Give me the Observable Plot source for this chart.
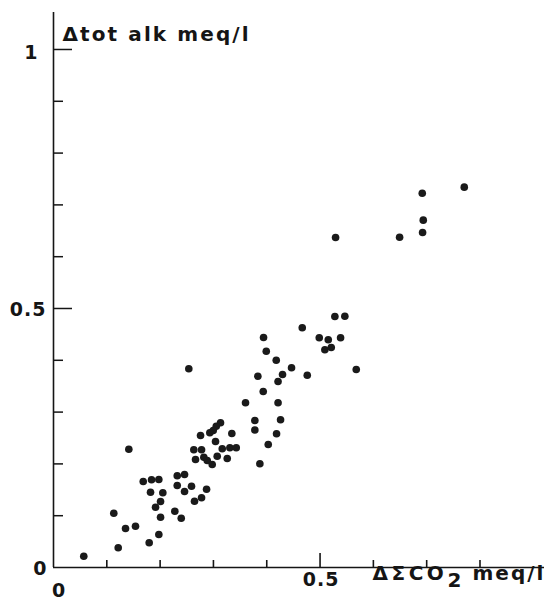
<!DOCTYPE html>
<html>
<head>
<meta charset="utf-8">
<script src="https://cdn.jsdelivr.net/npm/d3@7"></script>
<script src="https://cdn.jsdelivr.net/npm/@observablehq/plot@0.6"></script>
<style>
  html, body { margin: 0; padding: 0; background: #fff; }
  svg { display: block; }
</style>
</head>
<body>
<div id="chart"></div>
<script>
// ΔΣCO2 (meq/l) values
const dSumCO2 = [
  0.2538, 0.3833, 0.3934, 0.4212, 0.3602, 0.4212, 0.3777, 0.3777, 0.4259, 0.4184,
  0.4028, 0.3871, 0.1413, 0.3133, 0.3053, 0.2996, 0.2932, 0.2758, 0.3345, 0.3039,
  0.2632, 0.2777, 0.3165, 0.3308, 0.3428, 0.2664, 0.2820, 0.2884, 0.2977, 0.3071,
  0.3259, 0.1683, 0.1839, 0.1976, 0.2321, 0.2458, 0.1820, 0.2051, 0.2321, 0.2458,
  0.2589, 0.2871, 0.2777, 0.2645, 0.2008, 0.1914, 0.2276, 0.2396, 0.2008, 0.1131,
  0.1351, 0.1538, 0.1976, 0.1795, 0.1214, 0.0568, 0.5278, 0.5465, 0.4666, 0.3940,
  0.4985, 0.5154, 0.5385, 0.5090, 0.5210, 0.3991, 0.4178, 0.4465, 0.4296, 0.4760,
  0.5679, 0.6917, 0.7705, 0.6936, 0.6923, 0.6492, 0.5291
];
// Δ total alkalinity (meq/l) values
const dTotAlk = [
  0.3836, 0.3693, 0.3398, 0.3591, 0.3180, 0.3180, 0.2838, 0.2654, 0.2851, 0.2581,
  0.2375, 0.2002, 0.2284, 0.2793, 0.2728, 0.2645, 0.2600, 0.2548, 0.2587, 0.2432,
  0.2272, 0.2272, 0.2292, 0.2311, 0.2311, 0.2085, 0.2129, 0.2066, 0.1988, 0.2149,
  0.2104, 0.1660, 0.1693, 0.1699, 0.1770, 0.1795, 0.1454, 0.1442, 0.1583, 0.1467,
  0.1569, 0.1512, 0.1346, 0.1280, 0.1274, 0.1164, 0.1087, 0.0952, 0.0971, 0.1048,
  0.0753, 0.0797, 0.0637, 0.0477, 0.0380, 0.0218, 0.4846, 0.4851, 0.4627, 0.4440,
  0.4434, 0.4396, 0.4434, 0.4203, 0.4247, 0.4176, 0.4002, 0.3855, 0.3726, 0.3712,
  0.3822, 0.7226, 0.7342, 0.6705, 0.6467, 0.6376, 0.6371
];

const xMinorTicks = [0.1, 0.2, 0.3, 0.4, 0.6, 0.7, 0.8];
const xMajorTicks = [0.5];
const yMinorTicks = [0.1, 0.2, 0.3, 0.4, 0.6, 0.7, 0.8, 0.9];
const yMajorTicks = [0.5, 1];
const xTickLabelZero = [0];
const xTickLabelHalf = [0.5];
const yTickLabelLow = [0, 0.5];
const yTickLabelTop = [1];
const yLabel = "\u0394tot alk meq/l";
const xLabelMain = "\u0394\u03A3CO";
const xLabelSub = "2";
const xLabelUnit = "meq/l";

const points = dSumCO2.map((x, i) => ({x, y: dTotAlk[i]}));

const W = 544, H = 601;
const mL = 53, mR = 0, mT = 12, mB = 34;
const innerW = W - mL - mR, innerH = H - mT - mB;
const font = "'DejaVu Sans', Arial, Helvetica, sans-serif";
const ink = "#151515";
const fmt = d => String(d);

const chart = Plot.plot({
  width: W,
  height: H,
  marginLeft: mL,
  marginRight: mR,
  marginTop: mT,
  marginBottom: mB,
  style: {fontFamily: font, background: "#fff", color: ink},
  x: {domain: [0, 0.921], axis: null},
  y: {domain: [0, 1.0714], axis: null},
  marks: [
    Plot.ruleX([0], {stroke: ink, strokeWidth: 1.6}),
    Plot.ruleY([0], {stroke: ink, strokeWidth: 1.6}),
    Plot.tickX(xMinorTicks, {x: d => d, insetTop: innerH - 7, stroke: ink, strokeWidth: 1.6}),
    Plot.tickX(xMajorTicks, {x: d => d, insetTop: innerH - 14, stroke: ink, strokeWidth: 1.6}),
    Plot.tickY(yMinorTicks, {y: d => d, insetRight: innerW - 10, stroke: ink, strokeWidth: 1.5}),
    Plot.tickY(yMajorTicks, {y: d => d, insetRight: innerW - 19, stroke: ink, strokeWidth: 1.5}),
    Plot.text(yTickLabelLow, {
      x: 0, y: d => d, text: fmt, textAnchor: "end", dx: -7, dy: 1,
      fontSize: 19, fontWeight: "bold", fill: ink
    }),
    Plot.text(yTickLabelTop, {
      x: 0, y: d => d, text: fmt, textAnchor: "end", dx: -16, dy: 3,
      fontSize: 19, fontWeight: "bold", fill: ink
    }),
    Plot.text(xTickLabelZero, {
      x: d => d, y: 0, text: fmt, textAnchor: "middle", dx: 5, dy: 23,
      fontSize: 19, fontWeight: "bold", fill: ink
    }),
    Plot.text(xTickLabelHalf, {
      x: d => d, y: 0, text: fmt, textAnchor: "middle", dx: 1, dy: 12,
      fontSize: 19, fontWeight: "bold", fill: ink
    }),
    Plot.dot(points, {x: "x", y: "y", r: 3.8, fill: "#1a1a1a", stroke: "none"}),
    Plot.text([yLabel], {
      frameAnchor: "top-left", text: d => d, textAnchor: "start", lineAnchor: "top",
      dx: 9, dy: 14, fontSize: 20, fontWeight: "bold", fill: ink
    }),
    Plot.text([xLabelMain], {
      frameAnchor: "bottom-left", text: d => d, textAnchor: "start",
      dx: 319, dy: 12, fontSize: 20, fontWeight: "bold", fill: ink
    }),
    Plot.text([xLabelSub], {
      frameAnchor: "bottom-left", text: d => d, textAnchor: "start",
      dx: 394, dy: 19, fontSize: 20, fontWeight: "bold", fill: ink
    }),
    Plot.text([xLabelUnit], {
      frameAnchor: "bottom-left", text: d => d, textAnchor: "start",
      dx: 419, dy: 12, fontSize: 20, fontWeight: "bold", fill: ink
    })
  ]
});

// letter spacing to mimic the wide typeface of the original
const spacing = new Map([[yLabel, "2.1px"], [xLabelMain, "3.5px"], [xLabelUnit, "2px"], ["0.5", "1px"]]);
d3.select(chart).selectAll("text").each(function() {
  const s = spacing.get(this.textContent);
  if (s) this.setAttribute("letter-spacing", s);
});
document.getElementById("chart").appendChild(chart);
</script>
</body>
</html>
